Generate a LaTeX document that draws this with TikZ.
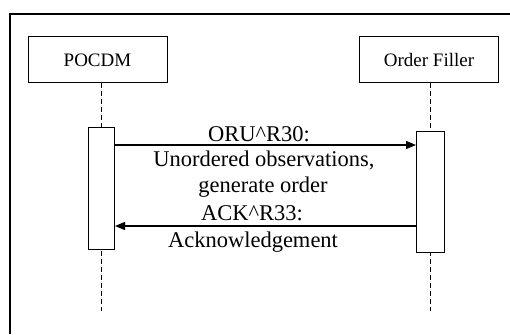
\documentclass[tikz,border=0pt]{standalone}
\usepackage{fontspec}
\setmainfont{Liberation Serif}
\usetikzlibrary{arrows.meta}

\tikzset{
  actor/.style={draw, line width=1pt, minimum width=139pt, minimum height=46pt,
                inner sep=0pt, font=\fontsize{19}{22}\selectfont},
  activation/.style={draw, line width=1pt, fill=white},
  lifeline/.style={line width=1pt, dash pattern=on 5pt off 3pt},
  msg/.style={line width=1.2pt, -{Triangle[length=10pt,width=8pt]}},
  lbl/.style={inner sep=0pt, font=\fontsize{22.5}{25.5}\selectfont}
}

\begin{document}
\begin{tikzpicture}[x=1pt, y=-1pt]
  \useasboundingbox (0,0) rectangle (510,334);

  % outer frame (open to the right and bottom)
  \draw[line width=2.2pt] (10,334) -- (10,14) -- (510,14);

  % participants
  \node[actor] (pocdm) at (97.5,60) {POCDM};
  \node[actor] (filler) at (429,60) {Order Filler};

  % lifeline anchor points
  \coordinate (pTop) at (101,83);
  \coordinate (pBot) at (101,311);
  \coordinate (fTop) at (430,83);
  \coordinate (fBot) at (430,311);

  \draw[lifeline] (pTop) -- (pBot);
  \draw[lifeline] (fTop) -- (fBot);

  % activation bars
  \node[activation, anchor=north west, minimum width=26pt, minimum height=122pt, inner sep=0pt]
    (pAct) at (88,127) {};
  \node[activation, anchor=north west, minimum width=28pt, minimum height=121pt, inner sep=0pt]
    (fAct) at (416,131) {};

  % messages
  \draw[msg] (pAct.east |- 0,145) coordinate (m1s) -- (fAct.west |- 0,145) coordinate (m1e);
  \draw[msg] (fAct.west |- 0,226) coordinate (m2s) -- (pAct.east |- 0,226) coordinate (m2e);

  % message labels
  \node[lbl, anchor=base] (l1a) at (259,141) {ORU\textasciicircum R30:};
  \node[lbl, anchor=base] (l1b) at (264,166.5) {Unordered observations,};
  \node[lbl, anchor=base] (l1c) at (263,192) {generate order};
  \node[lbl, anchor=base] (l2a) at (252,220) {ACK\textasciicircum R33:};
  \node[lbl, anchor=base] (l2b) at (253,247) {Acknowledgement};
\end{tikzpicture}
\end{document}
